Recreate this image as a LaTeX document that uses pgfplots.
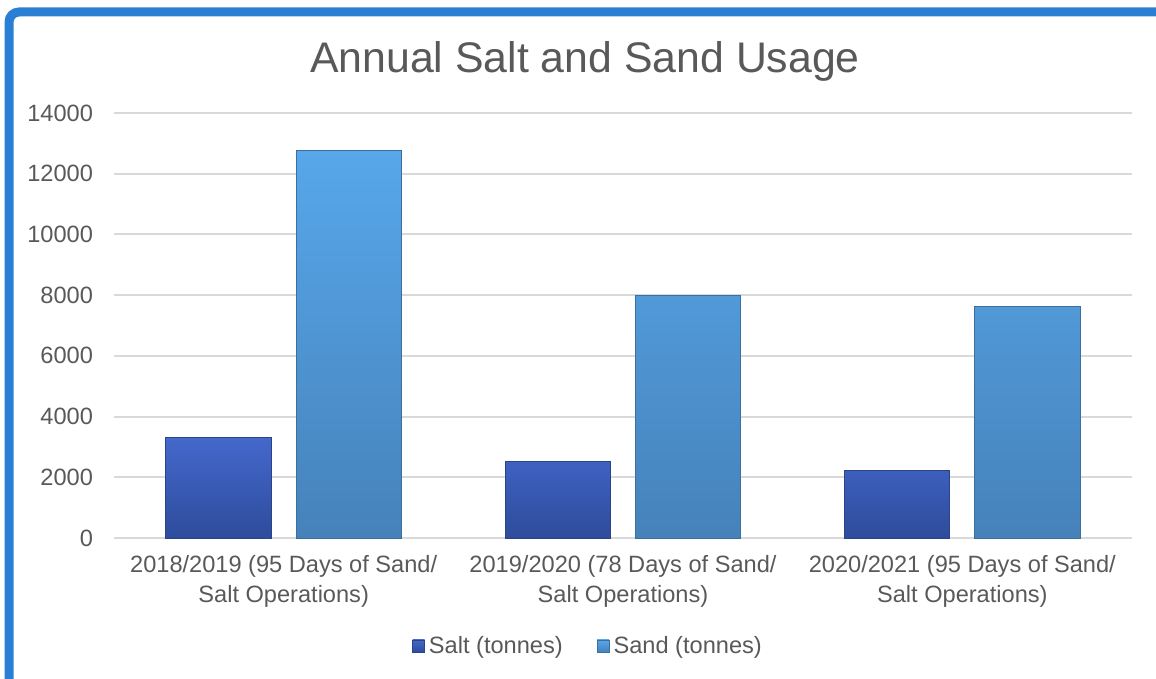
\documentclass[border=0pt]{standalone}
\usepackage{pgfplots}
\pgfplotsset{compat=1.18}
\usepackage{fontspec}
\setmainfont{Liberation Sans}
\definecolor{txt}{HTML}{595959}
\definecolor{grd}{HTML}{D9D9D9}
\definecolor{frame}{HTML}{2A7FD4}
\definecolor{saltT}{HTML}{4468CC}
\definecolor{saltB}{HTML}{2E4C9C}
\definecolor{saltE}{HTML}{2A4485}
\definecolor{sandT}{HTML}{57A7EA}
\definecolor{sandB}{HTML}{4682BA}
\definecolor{sandE}{HTML}{3C6F9E}
\begin{document}
\begin{tikzpicture}
\useasboundingbox (0,0) rectangle (578pt,-339.5pt);
\draw[frame, line width=4.5pt, rounded corners=5pt] (4.5pt,-360pt) -- (4.5pt,-6pt) -- (600pt,-6pt);
\node[txt, font=\fontsize{21.4}{26}\selectfont] at (292.5pt,-30.5pt) {Annual Salt and Sand Usage};
\begin{axis}[
  at={(57pt,-269pt)}, anchor=south west,
  scale only axis, width=509pt, height=212.5pt,
  ybar, bar width=0.31,
  xmin=-0.5, xmax=2.5, ymin=0, ymax=14000,
  ytick={0,2000,...,14000},
  scaled y ticks=false,
  xtick={0,1,2},
  xticklabels={{2018/2019 (95 Days of Sand/\\Salt Operations)},{2019/2020 (78 Days of Sand/\\Salt Operations)},{2020/2021 (95 Days of Sand/\\Salt Operations)}},
  xticklabel style={align=center, font=\fontsize{11.8}{15}\selectfont, text=txt, yshift=-5pt},
  yticklabel style={font=\fontsize{11.8}{14}\selectfont, text=txt, xshift=-7pt},
  /pgf/number format/1000 sep={},
  /pgf/number format/assume math mode=true,
  major tick length=0pt,
  ymajorgrids, grid style={grd, line width=1pt},
  axis x line*=bottom, axis line style={grd, line width=1.2pt},
  y axis line style={draw=none},
  axis y line*=left,
  legend style={at={(0.4666,-0.254)}, anchor=center, draw=none, legend columns=2,
    font=\fontsize{11.8}{14}\selectfont, text=txt,
    /tikz/every even column/.append style={column sep=15pt}},
  legend image code/.code={\draw[#1, line width=0.4pt] (0pt,-3pt) rectangle (6pt,3pt);},
]
\addplot[bar shift=-0.192, top color=saltT, bottom color=saltB, draw=saltE, line width=0.5pt]
  coordinates {(0,3320) (1,2510) (2,2220)};
\addplot[bar shift=0.192, top color=sandT, bottom color=sandB, draw=sandE, line width=0.5pt]
  coordinates {(0,12750) (1,7990) (2,7620)};
\legend{Salt (tonnes), Sand (tonnes)}
\end{axis}
\end{tikzpicture}
\end{document}
